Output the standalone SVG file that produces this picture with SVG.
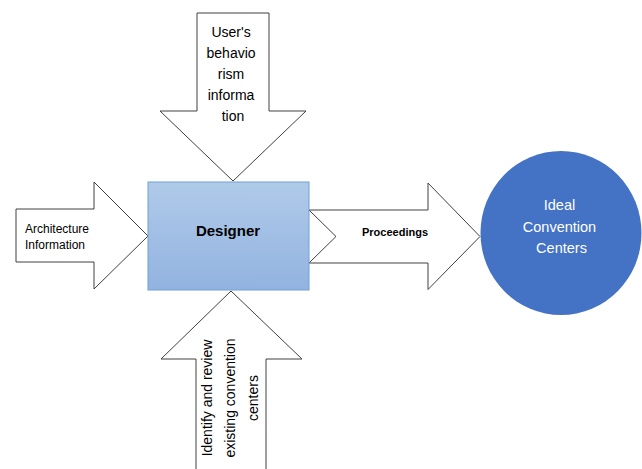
<svg xmlns="http://www.w3.org/2000/svg" width="642" height="469" viewBox="0 0 642 469">
<defs>
<linearGradient id="boxg" x1="0" y1="0" x2="0" y2="1">
<stop offset="0" stop-color="#b0cae9"/>
<stop offset="1" stop-color="#92b3e0"/>
</linearGradient>
<style>
.arr{fill:#ffffff;stroke:#404040;stroke-width:1}
.t{font-family:"Liberation Sans",Arial,sans-serif;fill:#000000}
.tw{font-family:"Liberation Sans",Arial,sans-serif;fill:#ffffff}
</style>
</defs>
<rect x="0" y="0" width="642" height="469" fill="#ffffff"/>
<g id="connectors">
<g id="arrow-top">
<polygon class="arr" points="197,13 269,13 269,111 306,111 233,181 160,111 197,111"/>
<text class="t" font-size="14" text-anchor="middle">
<tspan x="233" y="37">User's</tspan>
<tspan x="233" y="58">behavio</tspan>
<tspan x="233" y="79">rism</tspan>
<tspan x="233" y="100">informa</tspan>
<tspan x="233" y="121">tion</tspan>
</text>
</g>
<g id="arrow-left">
<polygon class="arr" points="16,209 94,209 94,182 148,236 94,289 94,262 16,262"/>
<text class="t" font-size="12">
<tspan x="25" y="232.5">Architecture</tspan>
<tspan x="25" y="249">Information</tspan>
</text>
</g>
<g id="arrow-right">
<polygon class="arr" points="309,210 428,210 428,183 480,236.5 428,289.5 428,263 309,263 336,236.5"/>
<text class="t" font-size="11" font-weight="bold" text-anchor="middle" x="395" y="235.5">Proceedings</text>
</g>
<g id="arrow-bottom">
<polygon class="arr" points="231,291 302,359 266,359 266,470 196,470 196,359 161,359"/>
<g transform="translate(0,398)">
<text class="t" font-size="14" text-anchor="middle" transform="translate(212,0) rotate(-90)" x="0" y="0">Identify and review</text>
<text class="t" font-size="14" text-anchor="middle" transform="translate(235,0) rotate(-90)" x="0" y="0">existing convention</text>
<text class="t" font-size="14" text-anchor="middle" transform="translate(258,0) rotate(-90)" x="0" y="0">centers</text>
</g>
</g>
</g>
<g id="designer">
<rect x="148" y="182" width="161" height="108" fill="url(#boxg)" stroke="#6fa0d8" stroke-width="1"/>
<text class="t" font-size="15" font-weight="bold" text-anchor="middle" x="228" y="236">Designer</text>
</g>
<g id="ideal-centers">
<ellipse cx="561" cy="233" rx="80.5" ry="82" fill="#4472c4"/>
<text class="tw" font-size="14.5" text-anchor="middle">
<tspan x="561.5" y="210">Ideal</tspan>
<tspan x="561.5" y="231.5">Convention</tspan>
<tspan x="561.5" y="253">Centers</tspan>
</text>
</g>
</svg>
